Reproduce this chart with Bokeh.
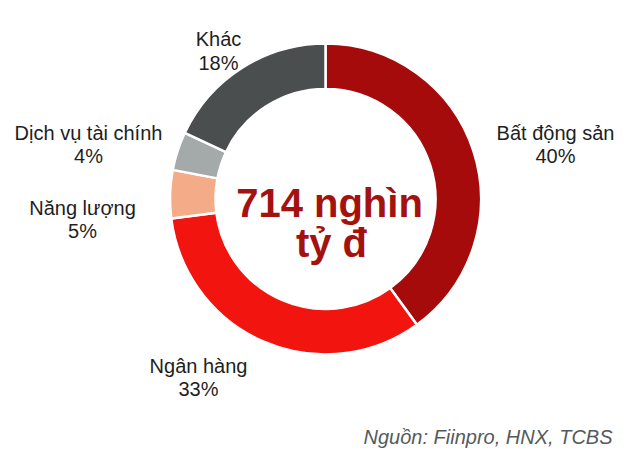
import math
from bokeh.plotting import figure
from bokeh.models import Range1d, ColumnDataSource
from bokeh.core.properties import value
from bokeh.embed import file_html
from bokeh.resources import INLINE

# ---- data ----
categories = ["Bất động sản", "Ngân hàng", "Năng lượng", "Dịch vụ tài chính", "Khác"]
shares = [40, 33, 5, 4, 18]
pct_labels = ["40%", "33%", "5%", "4%", "18%"]
colors = ["#a50b0b", "#f2140f", "#f3ab88", "#a4aaa9", "#4b4e4e"]
center_lines = ["714 nghìn", "tỷ đ"]
source_note = "Nguồn: Fiinpro, HNX, TCBS"

# ---- layout (screen pixel coords) ----
H = 455
FW, FH = 632, 449
label_pos = [(555, 132, 155), (198, 365, 388), (82, 207, 230), (88, 132, 155), (218, 38, 62)]
cx, cy = 325, 198.5
r_out, r_in = 155.5, 110

def sy(s):
    return H - s

p = figure(width=FW, height=FH, output_backend="svg", toolbar_location=None,
           x_range=Range1d(0, FW), y_range=Range1d(sy(FH), sy(0)),
           min_border=0, outline_line_color=None, background_fill_color="white",
           border_fill_color="white")
p.axis.visible = False
p.grid.visible = False

total = float(sum(shares))
starts, ends = [], []
acc = 0.0
for s in shares:
    starts.append(math.pi / 2 - 2 * math.pi * acc / total)
    acc += s
    ends.append(math.pi / 2 - 2 * math.pi * acc / total)

src = ColumnDataSource(dict(start=starts, end=ends, color=colors))
p.annular_wedge(x=cx, y=sy(cy), inner_radius=r_in, outer_radius=r_out,
                start_angle="start", end_angle="end", direction="clock",
                fill_color="color", line_color="white", line_width=2.5, source=src)

# category labels
p.text(x=[lp[0] for lp in label_pos], y=[sy(lp[1]) for lp in label_pos], text=categories,
       text_align="center", text_baseline="alphabetic", text_font=value("Liberation Sans"),
       text_font_size="20px", text_color="#1e1e1e")
p.text(x=[lp[0] for lp in label_pos], y=[sy(lp[2]) for lp in label_pos], text=pct_labels,
       text_align="center", text_baseline="alphabetic", text_font=value("Liberation Sans"),
       text_font_size="20px", text_color="#1e1e1e")

# center text
p.text(x=[329, 331], y=[sy(202), sy(242)], text=center_lines,
       text_align="center", text_baseline="alphabetic", text_font=value("Liberation Sans"),
       text_font_size="40px", text_font_style="bold", text_color="#a3120f")

# source note
p.text(x=[612], y=[sy(436)], text=[source_note], text_align="right",
       text_baseline="alphabetic", text_font=value("Liberation Sans"),
       text_font_size="20px", text_font_style="italic", text_color="#555a5c")

open("out.html", "w").write(file_html(p, INLINE))
